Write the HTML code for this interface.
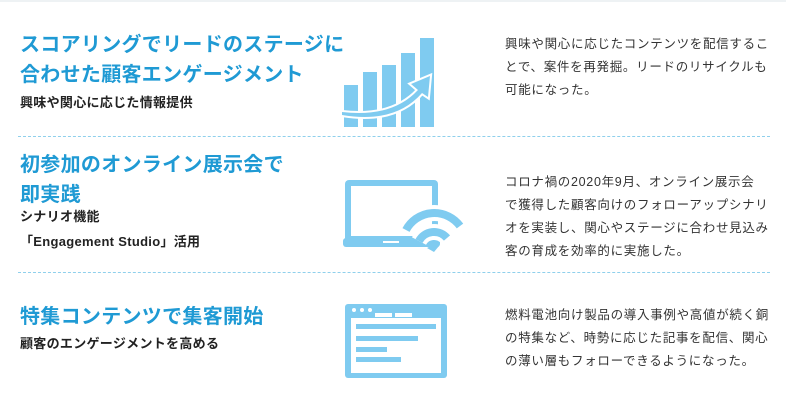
<!DOCTYPE html>
<html><head><meta charset="utf-8"><style>
body{margin:0;width:786px;height:406px;background:#fff;position:relative;overflow:hidden;font-family:"Liberation Sans","Noto Sans CJK JP",sans-serif}
.a{position:absolute;white-space:nowrap}
.t{color:#1f9ad4;font-size:20px;font-weight:bold;letter-spacing:0.3px;line-height:30px}
.s{color:#222;font-size:13px;font-weight:bold;line-height:25px;letter-spacing:.3px}
.r{color:#333;font-size:12.5px;letter-spacing:0.7px;line-height:23px;left:505px}
.d{position:absolute;left:18px;width:752px;border-top:1px dashed #8fd0ec}
</style></head><body>
<div style="position:absolute;left:0;top:0;width:786px;height:2px;background:#eef2f4"></div>
<div class="a t" style="left:20px;top:30px">スコアリングでリードのステージに<br>合わせた顧客エンゲージメント</div>
<div class="a s" style="left:20px;top:90px">興味や関心に応じた情報提供</div>
<div class="a r" style="top:33px">興味や関心に応じたコンテンツを配信するこ<br>とで、案件を再発掘。リードのリサイクルも<br>可能になった。</div>
<div class="d" style="top:136px"></div>
<div class="a t" style="left:20px;top:150px">初参加のオンライン展示会で<br>即実践</div>
<div class="a s" style="left:20px;top:204px">シナリオ機能<br>「Engagement Studio」活用</div>
<div class="a r" style="top:171px">コロナ禍の2020年9月、オンライン展示会<br>で獲得した顧客向けのフォローアップシナリ<br>オを実装し、関心やステージに合わせ見込み<br>客の育成を効率的に実施した。</div>
<div class="d" style="top:272px"></div>
<div class="a t" style="left:20px;top:302px">特集コンテンツで集客開始</div>
<div class="a s" style="left:20px;top:331px">顧客のエンゲージメントを高める</div>
<div class="a r" style="top:304px">燃料電池向け製品の導入事例や高値が続く銅<br>の特集など、時勢に応じた記事を配信、関心<br>の薄い層もフォローできるようになった。</div>
<svg class="a" style="left:0;top:0" width="786" height="406">
<g fill="#7fcbf0">
<rect x="344" y="85" width="14" height="42"/><rect x="363" y="72" width="14" height="55"/>
<rect x="382" y="65" width="14" height="62"/><rect x="401" y="53" width="14" height="74"/>
<rect x="420" y="38" width="14" height="89"/>
<path d="M342 112 Q392 118 418 90 L411 84 L430 76 L428 97 L422 93 Q395 124 342 115Z" stroke="#fff" stroke-width="4"/>
<path d="M342 112 Q392 118 418 90 L411 84 L430 76 L428 97 L422 93 Q395 124 342 115Z"/>
<rect x="345" y="180" width="93" height="62" rx="4"/>
<rect x="351" y="186" width="81" height="50" fill="#fff"/>
<rect x="343" y="238" width="97" height="9" rx="3"/>
<rect x="383" y="241" width="16" height="2" fill="#fff"/>
<g fill="none" stroke="#fff" stroke-width="16">
<path d="M406 230 A32 32 0 0 1 460 226"/><path d="M419 241 A17 17 0 0 1 447 238"/>
</g>
<g fill="none" stroke="#7fcbf0" stroke-width="8">
<path d="M406 230 A32 32 0 0 1 460 226"/><path d="M419 241 A17 17 0 0 1 447 238"/>
</g>
<path d="M427 248 Q433 244 439 246 L434 252Z"/>
<rect x="345" y="304" width="102" height="74" rx="3"/>
<rect x="351" y="318" width="90" height="55" fill="#fff"/>
<rect x="375" y="313" width="17" height="4" fill="#fff"/><rect x="395" y="313" width="17" height="4" fill="#fff"/>
<circle cx="354" cy="310" r="2" fill="#fff"/><circle cx="362" cy="310" r="2" fill="#fff"/><circle cx="370" cy="310" r="2" fill="#fff"/>
<rect x="356" y="324" width="80" height="5"/><rect x="356" y="336" width="62" height="5"/>
<rect x="356" y="347" width="31" height="5"/><rect x="356" y="357" width="45" height="5"/>
</g></svg>
</body></html>
